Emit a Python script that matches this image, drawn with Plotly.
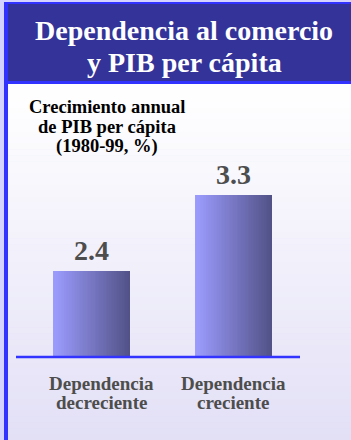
import plotly.graph_objects as go

# ---- data ----
category_lines = [["Dependencia", "decreciente"], ["Dependencia", "creciente"]]
growth = [2.4, 3.3]
value_labels = ["2.4", "3.3"]
title_lines = ["Dependencia al comercio", "y PIB per cápita"]
subtitle_lines = ["Crecimiento annual", "de PIB per cápita", "(1980-99, %)"]

# ---- geometry helpers (figure pixels -> paper coordinates) ----
W, H = 351, 440
M_TOP, M_BOT = 84, 83
PLOT_BOTTOM = H - M_BOT
PLOT_H = H - M_TOP - M_BOT


def px_x(px):
    return px / W


def px_y(py):
    return (PLOT_BOTTOM - py) / PLOT_H


SERIF = "Liberation Serif, Times New Roman, serif"
GREY = "#4d4d4d"
BLUE = "#3333ff"
NAVY = "#333399"

fig = go.Figure()

# ---- bars with a left-to-right shading, built from overlapping slices ----
BAR_W = 0.543
N_SLICES = 48
c_left = (156, 156, 255)
c_right = (82, 82, 136)
xs = list(range(len(growth)))
for j in range(N_SLICES):
    t = j / (N_SLICES - 1)
    col = tuple(round(a + (b - a) * t) for a, b in zip(c_left, c_right))
    start = -BAR_W / 2 + j * BAR_W / N_SLICES
    width = BAR_W / 2 - start
    fig.add_trace(go.Bar(
        x=[x + start + width / 2 for x in xs],
        y=growth,
        width=[width] * len(xs),
        marker=dict(color="rgb(%d,%d,%d)" % col, line=dict(width=0)),
        hoverinfo="skip",
        showlegend=False,
    ))

shapes = []
# outer frame
shapes.append(dict(type="rect", xref="paper", yref="paper", x0=px_x(0), x1=px_x(W),
                   y0=px_y(0), y1=px_y(H), fillcolor="#d4d4ff", line_width=0, layer="below"))
# body background: vertical white-to-lavender shading
N_BANDS = 60
top, bot = 84, H
for k in range(N_BANDS):
    t = k / (N_BANDS - 1)
    c = (round(255 + (227 - 255) * t), round(255 + (224 - 255) * t), round(255 + (246 - 255) * t))
    y0 = top + (bot - top) * k / N_BANDS
    y1 = top + (bot - top) * (k + 1) / N_BANDS + 0.6
    shapes.append(dict(type="rect", xref="paper", yref="paper", x0=px_x(8), x1=px_x(W),
                       y0=px_y(y1), y1=px_y(y0), fillcolor="rgb(%d,%d,%d)" % c,
                       line_width=0, layer="below"))
# borders and title banner
shapes.append(dict(type="rect", xref="paper", yref="paper", x0=px_x(4), x1=px_x(8),
                   y0=px_y(H), y1=px_y(2), fillcolor=BLUE, line_width=0, layer="above"))
shapes.append(dict(type="rect", xref="paper", yref="paper", x0=px_x(4), x1=px_x(W),
                   y0=px_y(4), y1=px_y(2), fillcolor=BLUE, line_width=0, layer="above"))
shapes.append(dict(type="rect", xref="paper", yref="paper", x0=px_x(8), x1=px_x(W),
                   y0=px_y(81), y1=px_y(4), fillcolor=NAVY, line_width=0, layer="above"))
shapes.append(dict(type="rect", xref="paper", yref="paper", x0=px_x(8), x1=px_x(W),
                   y0=px_y(84), y1=px_y(81), fillcolor=BLUE, line_width=0, layer="above"))
# baseline
shapes.append(dict(type="line", xref="paper", yref="paper", x0=px_x(16), x1=px_x(300),
                   y0=px_y(357), y1=px_y(357), line=dict(color=BLUE, width=2.5), layer="above"))

annotations = []
# title
for i, line in enumerate(title_lines):
    annotations.append(dict(text="<b>%s</b>" % line, xref="paper", yref="paper",
                            x=px_x(184), y=px_y(40 + 32 * i - 0.3375 * 28),
                            xanchor="center", yanchor="middle", showarrow=False,
                            font=dict(family=SERIF, size=28, color="white")))
# axis caption
for i, line in enumerate(subtitle_lines):
    annotations.append(dict(text="<b>%s</b>" % line, xref="paper", yref="paper",
                            x=px_x(107), y=px_y(113 + 20 * i - 0.3375 * 18.5),
                            xanchor="center", yanchor="middle", showarrow=False,
                            font=dict(family=SERIF, size=18.5, color="black")))
# value labels
for x, v, lab in zip(xs, growth, value_labels):
    annotations.append(dict(text="<b>%s</b>" % lab, x=x, y=v, xref="x", yref="y",
                            xanchor="center", yanchor="middle", yshift=20, showarrow=False,
                            font=dict(family=SERIF, size=28, color=GREY)))
# category labels
label_shift = [10, 0]
for x, lines, sh in zip(xs, category_lines, label_shift):
    for i, line in enumerate(lines):
        annotations.append(dict(text="<b>%s</b>" % line, x=x, xref="x", yref="paper",
                                y=px_y(390 + 19 * i - 0.3375 * 19), xshift=sh,
                                xanchor="center", yanchor="middle", showarrow=False,
                                font=dict(family=SERIF, size=19, color=GREY)))

Y_MIN = 1.38
PX_PER_UNIT = 84.4
X_CENTER0, X_STEP = 91.4, 142.0

fig.update_layout(
    width=W, height=H,
    margin=dict(l=0, r=0, t=M_TOP, b=M_BOT, pad=0),
    paper_bgcolor="white",
    plot_bgcolor="rgba(0,0,0,0)",
    barmode="overlay",
    bargap=0,
    showlegend=False,
    xaxis=dict(range=[-X_CENTER0 / X_STEP, (W - X_CENTER0) / X_STEP], visible=False, fixedrange=True),
    yaxis=dict(range=[Y_MIN, Y_MIN + PLOT_H / PX_PER_UNIT], visible=False, fixedrange=True),
    shapes=shapes,
    annotations=annotations,
)

fig.write_html("out.html", config={"displayModeBar": False})
